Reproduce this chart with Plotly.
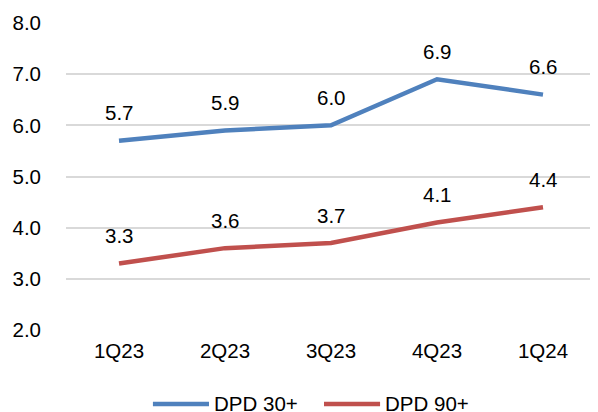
import plotly.graph_objects as go

categories = ["1Q23", "2Q23", "3Q23", "4Q23", "1Q24"]
dpd30 = [5.7, 5.9, 6.0, 6.9, 6.6]
dpd90 = [3.3, 3.6, 3.7, 4.1, 4.4]
y_ticks = [2, 3, 4, 5, 6, 7, 8]
series_names = ["DPD 30+", "DPD 90+"]

BLUE = "#4F81BD"
RED = "#C0504D"
FONT = "Liberation Sans, Arial, sans-serif"
FS = 20.5

fig = go.Figure()
for name, vals, col in zip(series_names, (dpd30, dpd90), (BLUE, RED)):
    fig.add_trace(go.Scatter(x=categories, y=vals, mode="lines", name=name,
                             line=dict(color=col, width=4.5), showlegend=False))
    for c, v in zip(categories, vals):
        fig.add_annotation(x=c, y=v, text=f"{v:.1f}", showarrow=False,
                           yshift=28, font=dict(size=FS, color="#000000", family=FONT))

# custom legend (layout only)
legend_items = [(series_names[0], BLUE, 0.164), (series_names[1], RED, 0.4868)]
for name, col, x0 in legend_items:
    fig.add_shape(type="line", xref="paper", yref="paper", x0=x0, x1=x0 + 0.1058,
                  y0=-0.241, y1=-0.241, line=dict(color=col, width=4.5))
    fig.add_annotation(xref="paper", yref="paper", x=x0 + 0.111, y=-0.241,
                       xanchor="left", yanchor="middle", text=name, showarrow=False,
                       font=dict(size=FS, color="#000000", family=FONT))

fig.update_layout(
    width=590, height=404,
    margin=dict(l=58, r=2, t=15, b=82),
    plot_bgcolor="white", paper_bgcolor="white",
    font=dict(family=FONT, size=FS, color="#000000"),
    showlegend=False,
    xaxis=dict(range=[-0.5, 4.5], showgrid=False, showline=False, zeroline=False,
               ticks="", ticklabelstandoff=6),
    yaxis=dict(range=[2, 8], tickvals=y_ticks, tickformat=".1f",
               showgrid=True, gridcolor="#D9D9D9", gridwidth=1.5,
               zeroline=False, showline=False, ticks="", ticklabelstandoff=24),
)

fig.write_html("out.html")
